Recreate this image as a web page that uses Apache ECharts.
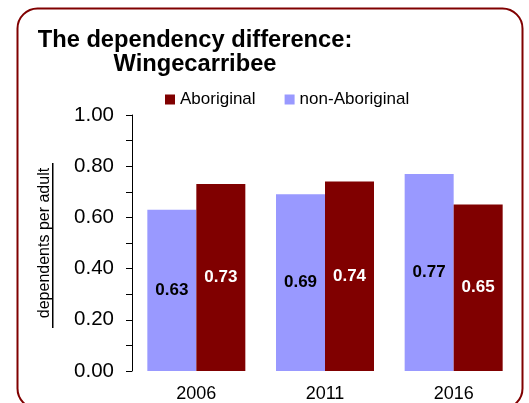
<!DOCTYPE html>
<html>
<head>
<meta charset="utf-8">
<script src="https://cdn.jsdelivr.net/npm/echarts@6/dist/echarts.min.js"></script>
<style>
  html, body { margin: 0; padding: 0; background: #fff; }
  #chart { width: 529px; height: 403px; }
</style>
</head>
<body>
<div id="chart"></div>
<script>
const years = ['2006', '2011', '2016'];
const aboriginal = [0.73, 0.74, 0.65];
const nonAboriginal = [0.63, 0.69, 0.77];
const yTicks = [0, 0.2, 0.4, 0.6, 0.8, 1.0];

const font = '"Liberation Sans", Arial, sans-serif';
const maroon = '#800000';
const lilac = '#9999FF';

const barSeries = {
  type: 'bar',
  barWidth: 49,
  barGap: 0
};
const barLabel = {
  show: true,
  position: 'inside',
  fontFamily: font,
  fontSize: 17,
  fontWeight: 'bold',
  formatter: p => p.value.toFixed(2)
};

const chart = echarts.init(document.getElementById('chart'));
const option = {
  animation: false,
  title: {
    text: 'The dependency difference:\nWingecarribee',
    left: 190,
    top: 23,
    textAlign: 'center',
    textStyle: {
      fontFamily: font,
      fontSize: 23.7,
      fontWeight: 'bold',
      color: '#000',
      lineHeight: 24
    }
  },
  legend: {
    data: ['Aboriginal', 'non-Aboriginal'],
    left: 160,
    top: 86,
    itemWidth: 10,
    itemHeight: 10,
    itemGap: 29,
    icon: 'rect',
    textStyle: { fontFamily: font, fontSize: 17, color: '#000' }
  },
  grid: {
    left: 132,
    right: 11,
    top: 115,
    bottom: 28
  },
  xAxis: {
    type: 'category',
    data: years,
    axisLine: { show: false },
    axisTick: { show: false },
    axisLabel: { fontFamily: font, fontSize: 18, color: '#000', margin: 14 }
  },
  yAxis: {
    type: 'value',
    min: yTicks[0],
    max: yTicks[yTicks.length - 1],
    interval: 0.2,
    name: 'dependents per adult',
    nameLocation: 'middle',
    nameRotate: 90,
    nameGap: 79,
    nameTextStyle: { fontFamily: font, fontSize: 16, color: '#000' },
    axisLine: { show: true, lineStyle: { color: '#000', width: 1 } },
    axisTick: { show: true, length: 6, lineStyle: { color: '#000' } },
    minorTick: { show: true, splitNumber: 2, length: 6, lineStyle: { color: '#000' } },
    splitLine: { show: false },
    axisLabel: {
      fontFamily: font,
      fontSize: 20.5,
      color: '#000',
      margin: 18,
      formatter: v => v.toFixed(2)
    }
  },
  series: [
    {
      name: 'non-Aboriginal',
      ...barSeries,
      itemStyle: { color: lilac },
      label: { ...barLabel, color: '#000' },
      data: nonAboriginal
    },
    {
      name: 'Aboriginal',
      ...barSeries,
      itemStyle: { color: maroon },
      label: { ...barLabel, color: '#fff' },
      data: aboriginal
    }
  ],
  graphic: [
    {
      // rounded frame round the whole chart
      type: 'rect',
      left: 15,
      top: 6,
      shape: { width: 505, height: 400, r: 20 },
      style: { fill: 'none', stroke: maroon, lineWidth: 2 },
      z: -1
    },
    {
      // underline of the axis name
      type: 'rect',
      left: 52,
      top: 163,
      shape: { width: 1.5, height: 165 },
      style: { fill: '#000' }
    }
  ]
};
chart.setOption(option);
</script>
</body>
</html>
